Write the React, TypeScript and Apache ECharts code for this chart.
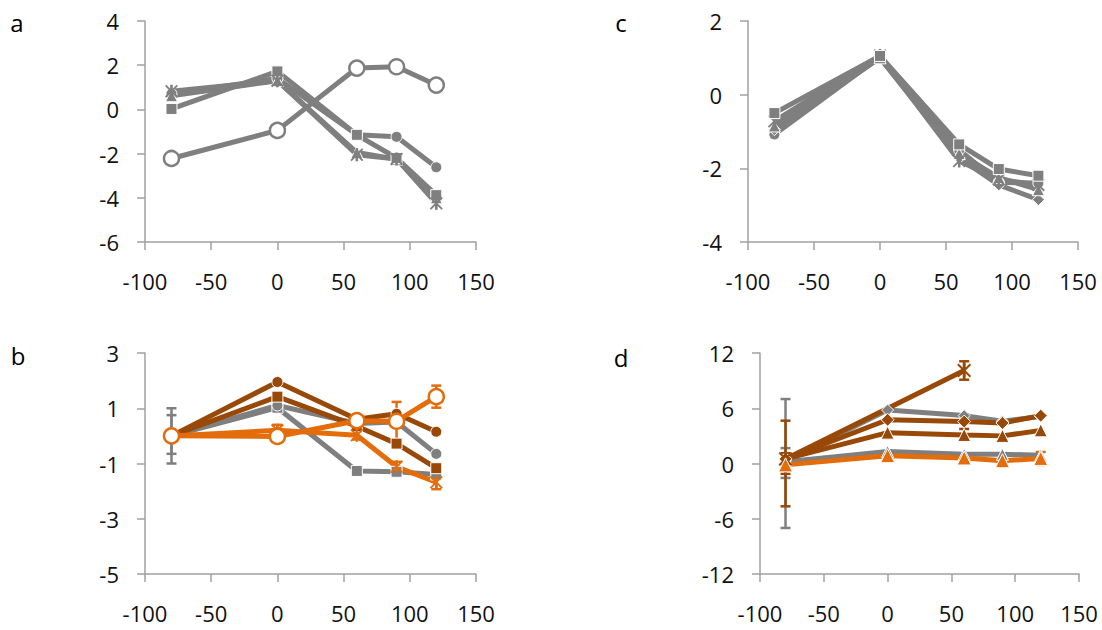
import React, { useEffect, useRef } from "react";
import * as echarts from "echarts";

// ---------- data ----------
const xs = [-80, 0, 60, 90, 120];
const xTicks = [-100, -50, 0, 50, 100, 150];

// panel a
const aSquare = [0.02, 1.72, -1.15, -2.2, -3.88];
const aCircle = [0.7, 1.4, -1.15, -1.24, -2.62];
const aTriangle = [0.62, 1.3, -1.95, -2.25, -4.0];
const aStar = [0.82, 1.3, -2.05, -2.24, -4.25];
const aOpen = [-2.22, -0.95, 1.87, 1.93, 1.1];
const aYTicks = [-6, -4, -2, 0, 2, 4];

// panel b
const bGrayCircle = [0, 1.1, 0.45, 0.5, -0.65];
const bGraySquare = [0, 1.02, -1.27, -1.3, -1.4];
const bBrownCircle = [0, 1.95, 0.6, 0.8, 0.15];
const bBrownSquare = [0, 1.42, 0.35, -0.28, -1.17];
const bOrangeStar = [0, 0.2, 0.02, -1.12, -1.68];
const bOrangeOpen = [0, -0.02, 0.55, 0.53, 1.42];
const bGrayErr = [[-80, 0, 1.0], [-80, 0.05, 0.7]];
const bOrangeErr = [[0, 0.2, 0.2], [60, 0.02, 0.15], [90, -1.12, 0.18], [120, -1.68, 0.25], [90, 0.53, 0.7], [120, 1.42, 0.4]];
const bYTicks = [-5, -3, -1, 1, 3];

// panel c
const cSquare = [-0.5, 1.05, -1.35, -2.02, -2.2];
const cCircle = [-1.08, 1.02, -1.5, -2.38, -2.4];
const cTriangle = [-0.85, 1.0, -1.6, -2.25, -2.58];
const cDiamond = [-0.95, 1.0, -1.72, -2.45, -2.85];
const cStar = [-0.72, 1.06, -1.8, -2.3, -2.45];
const cYTicks = [-4, -2, 0, 2];

// panel d
const dStarX = [-80, 60];
const dBrownStar = [0.5, 10.1];
const dGrayUpper = [0.3, 5.8, 5.2, 4.6, 5.1];
const dBrownDiamond = [0.5, 4.75, 4.55, 4.4, 5.2];
const dBrownTriangle = [0.5, 3.35, 3.1, 3.0, 3.6];
const dGrayLower = [0.2, 1.3, 1.0, 1.0, 0.9];
const dOrangeTriangle = [-0.15, 0.85, 0.6, 0.3, 0.55];
const dGrayErr = [[-80, 0, 7.0], [-80, 0.05, 1.62]];
const dBrownErr = [[-80, 0, 4.65], [-80, 0, 1.12], [60, 10.1, 1.0], [60, 4.55, 0.8]];
const dOrangeErr = [[120, 0.55, 0.7]];
const dYTicks = [-12, -6, 0, 6, 12];

const GRAY = "#7F7F7F";
const BROWN = "#984807";
const ORANGE = "#E46C0A";
const AXIS = "#A0A0A0";
const FONT = "Open Sans";

const STAR = "path://M4,0L6,0L6,10L4,10Z M0,1L1,0L10,9L9,10Z M9,0L10,1L1,10L0,9Z";

function lineS(g: number, xv: number[], ys: number[], color: string, symbol: string, size: number, open = false) {
  const isStar = symbol === STAR;
  return {
    type: "line",
    xAxisIndex: g,
    yAxisIndex: g,
    data: xv.map((x, i) => [x, ys[i]]),
    symbol,
    symbolSize: size,
    silent: true,
    z: 3,
    lineStyle: { color, width: 5 },
    itemStyle: open
      ? { color: "#fff", borderColor: color, borderWidth: 2.5 }
      : { color, borderColor: "#fff", borderWidth: isStar ? 0 : 1 },
  };
}

function errS(g: number, data: number[][], color: string, lw: number, cap: number) {
  return {
    type: "custom",
    xAxisIndex: g,
    yAxisIndex: g,
    data,
    z: 2,
    silent: true,
    encode: { x: 0, y: 1 },
    renderItem: (params: any, api: any) => {
      const x = api.value(0);
      const y = api.value(1);
      const e = api.value(2);
      const t = api.coord([x, y + e]);
      const b = api.coord([x, y - e]);
      const st = { stroke: color, lineWidth: lw };
      return {
        type: "group",
        children: [
          { type: "line", shape: { x1: t[0], y1: t[1], x2: b[0], y2: b[1] }, style: st },
          { type: "line", shape: { x1: t[0] - cap, y1: t[1], x2: t[0] + cap, y2: t[1] }, style: st },
          { type: "line", shape: { x1: b[0] - cap, y1: b[1], x2: b[0] + cap, y2: b[1] }, style: st },
        ],
      };
    },
  };
}

function xAx(g: number) {
  return {
    type: "value",
    gridIndex: g,
    min: xTicks[0],
    max: xTicks[xTicks.length - 1],
    interval: 50,
    axisLine: { show: true, onZero: false, lineStyle: { color: AXIS, width: 1.5 } },
    axisTick: { show: true, length: 8, lineStyle: { color: AXIS, width: 1.5 } },
    axisLabel: { color: "#111", fontSize: 22, fontFamily: FONT, margin: 28 },
    splitLine: { show: false },
  };
}

function yAx(g: number, ticks: number[]) {
  return {
    type: "value",
    gridIndex: g,
    min: ticks[0],
    max: ticks[ticks.length - 1],
    interval: ticks[1] - ticks[0],
    axisLine: { show: true, onZero: false, lineStyle: { color: AXIS, width: 1.5 } },
    axisTick: { show: true, length: 8, customValues: ticks, lineStyle: { color: AXIS, width: 1.5 } },
    axisLabel: { color: "#111", fontSize: 22, fontFamily: FONT, margin: 26, customValues: ticks },
    splitLine: { show: false },
  };
}

function letter(t: string, x: number, y: number) {
  return {
    type: "text",
    x,
    y,
    style: { text: t, fill: "#000", font: `24px "${FONT}"`, textAlign: "center", textVerticalAlign: "middle" },
  };
}

export default function App() {
  const ref = useRef<HTMLDivElement>(null);
  useEffect(() => {
    if (!ref.current) return;
    const chart = echarts.init(ref.current, null, { renderer: "svg" });
    chart.setOption({
      animation: false,
      backgroundColor: "#fff",
      grid: [
        { left: 145, top: 21, width: 331, height: 221 },
        { left: 145, top: 353, width: 331, height: 221 },
        { left: 748, top: 21, width: 330, height: 221 },
        { left: 760, top: 353, width: 319, height: 221 },
      ],
      xAxis: [xAx(0), xAx(1), xAx(2), xAx(3)],
      yAxis: [yAx(0, aYTicks), yAx(1, bYTicks), yAx(2, cYTicks), yAx(3, dYTicks)],
      graphic: [letter("a", 17, 22), letter("b", 18, 355), letter("c", 621, 22), letter("d", 621, 357)],
      series: [
        // a
        lineS(0, xs, aCircle, GRAY, "circle", 11),
        lineS(0, xs, aTriangle, GRAY, "triangle", 12),
        lineS(0, xs, aSquare, GRAY, "rect", 11),
        lineS(0, xs, aStar, GRAY, STAR, 13),
        lineS(0, xs, aOpen, GRAY, "circle", 15, true),
        // b
        errS(1, bGrayErr, GRAY, 2.5, 5),
        errS(1, bOrangeErr, ORANGE, 2.5, 5),
        lineS(1, xs, bGraySquare, GRAY, "rect", 11),
        lineS(1, xs, bGrayCircle, GRAY, "circle", 11),
        lineS(1, xs, bBrownSquare, BROWN, "rect", 11),
        lineS(1, xs, bBrownCircle, BROWN, "circle", 11),
        lineS(1, xs, bOrangeStar, ORANGE, STAR, 13),
        lineS(1, xs, bOrangeOpen, ORANGE, "circle", 15, true),
        // c
        lineS(2, xs, cCircle, GRAY, "circle", 11),
        lineS(2, xs, cDiamond, GRAY, "diamond", 12),
        lineS(2, xs, cTriangle, GRAY, "triangle", 12),
        lineS(2, xs, cStar, GRAY, STAR, 13),
        lineS(2, xs, cSquare, GRAY, "rect", 11),
        // d
        errS(3, dGrayErr, GRAY, 2.5, 5),
        errS(3, dBrownErr, BROWN, 2.5, 5),
        errS(3, dOrangeErr, ORANGE, 2.5, 5),
        lineS(3, xs, dGrayUpper, GRAY, "diamond", 12),
        lineS(3, xs, dGrayLower, GRAY, "triangle", 12),
        lineS(3, xs, dBrownTriangle, BROWN, "triangle", 13),
        lineS(3, xs, dBrownDiamond, BROWN, "diamond", 13),
        lineS(3, dStarX, dBrownStar, BROWN, STAR, 14),
        lineS(3, xs, dOrangeTriangle, ORANGE, "triangle", 14),
      ],
    });
    return () => chart.dispose();
  }, []);
  return <div ref={ref} style={{ position: "absolute", left: 0, top: 0, width: 1102, height: 630 }} />;
}
